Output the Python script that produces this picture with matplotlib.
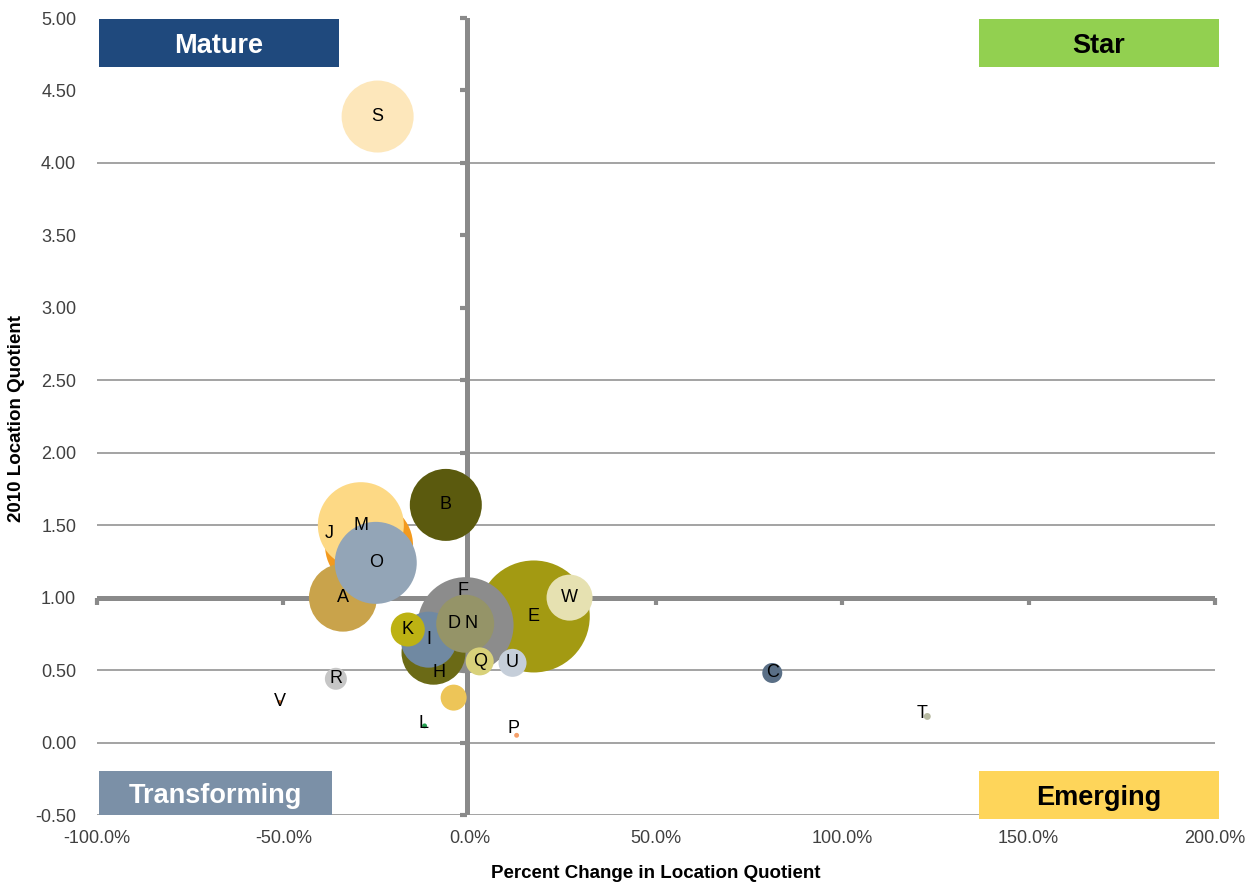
import matplotlib.pyplot as plt
from matplotlib.patches import Rectangle
from matplotlib.ticker import FuncFormatter
from matplotlib.markers import TICKDOWN, TICKLEFT

plt.rcParams['font.family'] = ['Liberation Sans', 'DejaVu Sans']

# industries, listed in drawing order (back to front)
labels = ["E", "F", "J", "M", "A", "O", "S", "B", "H", "I", "D", "N",
          "K", "W", "Q", "U", "R", "", "C", "L", "P", "V", "T"]
pct_change = [17.2, -1.1, -27.0, -29.2, -34.0, -25.2, -24.7, -6.4, -9.7, -11.0, -4.3, -1.2,
              -16.6, 26.8, 2.7, 11.5, -35.9, -4.3, 81.2, -12.1, 12.6, -51.0, 122.8]
lq_2010 = [0.87, 0.81, 1.36, 1.50, 1.00, 1.24, 4.32, 1.64, 0.62, 0.71, 0.82, 0.82,
           0.78, 1.00, 0.56, 0.55, 0.44, 0.31, 0.48, 0.115, 0.05, 0.28, 0.18]
employment = [3136, 2304, 1936, 1849, 1156, 1681, 1296, 1296, 1024, 784, 256, 841,
              289, 529, 196, 196, 121, 169, 100, 6, 6, 4, 12]
colors = ["#a39a12", "#8c8c8c", "#f39a1e", "#fdd985", "#c9a34b", "#93a5b7", "#fde7bb",
          "#5b5a0e", "#6b6a16", "#7089a2", "#959468", "#959468", "#bdb213", "#e6e1b1",
          "#d8d17a", "#c5ced9", "#c6c6c6", "#edc558", "#5a6f86", "#22a050", "#f5a06a",
          "#e07b39", "#b7baa2"]

# label nudges in pixels (dx, dy)
label_shift = {"J": (-40, 12), "F": (-3, 35), "N": (6, 0), "H": (5, -20),
               "L": (-1, 2), "P": (-3, 7), "T": (-5, 3)}

x_ticks = [-100, -50, 0, 50, 100, 150, 200]
y_ticks = [-0.5, 0, 0.5, 1.0, 1.5, 2.0, 2.5, 3.0, 3.5, 4.0, 4.5, 5.0]
grid_rows = [-0.5, 0, 0.5, 1.5, 2.0, 2.5, 4.0]

fig = plt.figure(figsize=(12.45, 8.84), dpi=100)
ax = fig.add_axes([97 / 1245, 1 - 815 / 884, 1118 / 1245, 797 / 884])
ax.set_xlim(-100, 200)
ax.set_ylim(-0.5, 5.0)

for s in ax.spines.values():
    s.set_visible(False)

for g in grid_rows:
    ax.axhline(g, color="#a3a3a3", lw=1.4, zorder=0)

axis_gray = "#8a8a8a"
ax.axhline(1.0, color=axis_gray, lw=3.6, zorder=1)
ax.axvline(-0.8, color=axis_gray, lw=3.6, zorder=1)
ax.plot(x_ticks, [1.0] * len(x_ticks), ls="none", marker=TICKDOWN, ms=5, mew=3,
        color=axis_gray, zorder=1, clip_on=False)
ax.plot([-0.8] * len(y_ticks), y_ticks, ls="none", marker=TICKLEFT, ms=5, mew=3,
        color=axis_gray, zorder=1, clip_on=False)

# bubbles
px2pt = 72 / fig.dpi
for i in range(len(labels)):
    ax.scatter(pct_change[i], lq_2010[i], s=employment[i] * 4 * px2pt ** 2,
               color=colors[i], edgecolors="none", zorder=2 + i * 0.01)
for i, lab in enumerate(labels):
    if not lab:
        continue
    dx, dy = label_shift.get(lab, (0, 0))
    ax.annotate(lab, (pct_change[i], lq_2010[i]), xytext=(dx * px2pt, dy * px2pt),
                textcoords="offset points", ha="center", va="center",
                fontsize=13, color="black", zorder=5)

ax.set_xticks(x_ticks)
ax.set_yticks(y_ticks)
ax.xaxis.set_major_formatter(FuncFormatter(lambda v, p: "{:.1f}%".format(v)))
ax.yaxis.set_major_formatter(FuncFormatter(lambda v, p: "{:.2f}".format(v)))
ax.tick_params(axis="x", length=0, pad=11, labelsize=13, labelcolor="#404040")
ax.tick_params(axis="y", length=0, pad=15, labelsize=13, labelcolor="#404040")

fig.text(656 / 1245, 1 - 873 / 884, "Percent Change in Location Quotient",
         ha="center", va="center", fontsize=13.5, fontweight="bold")
fig.text(17 / 1245, 1 - 418 / 884, "2010 Location Quotient", rotation=90,
         ha="center", va="center", fontsize=13.5, fontweight="bold")

# quadrant tags
quadrants = [("Mature", 99, 19, 240, 48, "#1f497d", "white"),
             ("Star", 979, 19, 240, 48, "#92d050", "black"),
             ("Transforming", 99, 771, 233, 44, "#7b90a7", "white"),
             ("Emerging", 979, 771, 240, 48, "#fed55a", "black")]
for name, bx, by, bw, bh, fc, tc in quadrants:
    x0 = (bx - 97) / 1118
    y0 = (815 - by - bh) / 797
    ax.add_patch(Rectangle((x0, y0), bw / 1118, bh / 797, transform=ax.transAxes,
                           facecolor=fc, edgecolor="none", clip_on=False, zorder=6))
    ax.text(x0 + bw / 2236, y0 + (bh / 2 - 3) / 797, name, transform=ax.transAxes,
            ha="center", va="center", fontsize=19.5, fontweight="bold", color=tc, zorder=7)

fig.savefig("out.png", dpi=100)
